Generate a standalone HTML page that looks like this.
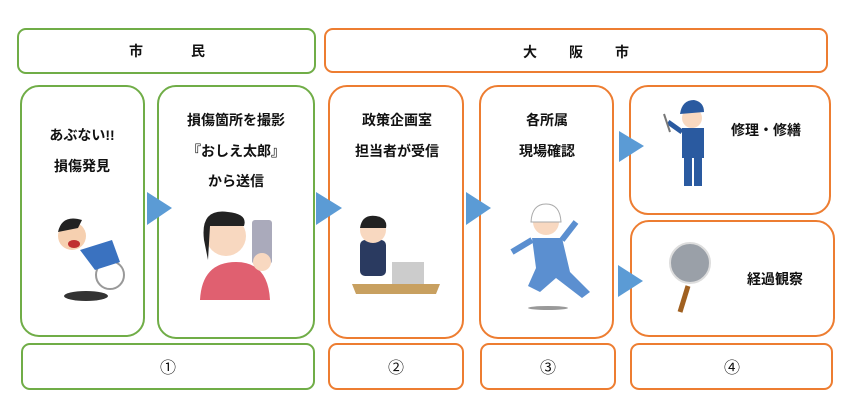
<!DOCTYPE html>
<html><head><meta charset="utf-8"><style>
body{margin:0;width:854px;height:412px;background:#fff;overflow:hidden}
svg text{font-family:"Liberation Sans","Noto Sans CJK JP",sans-serif;font-weight:bold;font-size:14px;fill:#111;text-anchor:middle}
svg text.n{font-weight:normal;font-size:16px}
</style></head><body>
<svg width="854" height="412" viewBox="0 0 854 412">
<g fill="none" stroke-width="2">
<rect x="18" y="29" width="297" height="44" rx="8" stroke="#70ad47"/>
<rect x="325" y="29" width="502" height="43" rx="8" stroke="#ed7d31"/>
<rect x="21" y="86" width="123" height="250" rx="18" stroke="#70ad47"/>
<rect x="158" y="86" width="156" height="252" rx="18" stroke="#70ad47"/>
<rect x="329" y="86" width="134" height="252" rx="18" stroke="#ed7d31"/>
<rect x="480" y="86" width="133" height="252" rx="18" stroke="#ed7d31"/>
<rect x="630" y="86" width="200" height="128" rx="18" stroke="#ed7d31"/>
<rect x="631" y="221" width="203" height="115" rx="18" stroke="#ed7d31"/>
<rect x="22" y="344" width="292" height="45" rx="8" stroke="#70ad47"/>
<rect x="329" y="344" width="134" height="45" rx="8" stroke="#ed7d31"/>
<rect x="481" y="344" width="134" height="45" rx="8" stroke="#ed7d31"/>
<rect x="631" y="344" width="201" height="45" rx="8" stroke="#ed7d31"/>
</g>
<g fill="#5b9bd5">
<polygon points="147,192 172,208 147,225"/>
<polygon points="316,192 342,208 316,225"/>
<polygon points="466,192 491,208 466,225"/>
<polygon points="619,131 644,146 619,162"/>
<polygon points="618,265 643,281 618,297"/>
</g>
<text x="136" y="56">市</text><text x="198" y="56">民</text>
<text x="530" y="57">大</text><text x="576" y="57">阪</text><text x="622" y="57">市</text>
<text x="82" y="140">あぶない!!</text><text x="82" y="171">損傷発見</text>
<text x="236" y="125">損傷箇所を撮影</text><text x="236" y="156">『おしえ太郎』</text><text x="236" y="186">から送信</text>
<text x="397" y="125">政策企画室</text><text x="397" y="156">担当者が受信</text>
<text x="547" y="125">各所属</text><text x="547" y="156">現場確認</text>
<text x="766" y="135">修理・修繕</text>
<text x="775" y="284">経過観察</text>
<text class="n" x="168" y="373">①</text>
<text class="n" x="396" y="373">②</text>
<text class="n" x="548" y="373">③</text>
<text class="n" x="732" y="373">④</text>
<ellipse cx="86" cy="296" rx="22" ry="5" fill="#333"/>
<circle cx="110" cy="275" r="14" fill="none" stroke="#999" stroke-width="2"/>
<path d="M80 250 L112 240 L120 262 L95 270Z" fill="#3a72c0"/>
<circle cx="72" cy="236" r="14" fill="#f6d0b0"/>
<path d="M58 232 Q62 214 82 220 L78 228Z" fill="#222"/>
<ellipse cx="74" cy="244" rx="6" ry="4" fill="#c03030"/>
<path d="M200 300 Q202 262 236 262 Q268 262 270 300Z" fill="#e06070"/>
<circle cx="226" cy="236" r="20" fill="#f8d8c0"/>
<path d="M204 240 Q200 208 228 212 Q248 214 244 226 L210 226 L208 260Z" fill="#222"/>
<rect x="252" y="220" width="20" height="44" rx="3" fill="#aab"/>
<circle cx="262" cy="262" r="9" fill="#f8d8c0"/>
<rect x="360" y="240" width="26" height="36" rx="5" fill="#2a3a60"/>
<circle cx="373" cy="230" r="13" fill="#f8d8c0"/>
<path d="M360 228 Q362 214 376 216 Q388 218 386 228Z" fill="#222"/>
<rect x="392" y="262" width="32" height="22" fill="#ccc"/>
<path d="M352 284 L440 284 L436 294 L356 294Z" fill="#c8a060"/>
<ellipse cx="548" cy="308" rx="20" ry="2" fill="#999"/>
<circle cx="546" cy="222" r="13" fill="#f8d8c0"/>
<path d="M531 222 Q532 204 546 204 Q560 204 561 222Z" fill="#fff" stroke="#aaa"/>
<path d="M532 238 L562 238 L570 272 L590 292 L582 298 L556 278 L540 292 L528 286 L536 268Z" fill="#5b8fd0"/>
<path d="M532 240 L512 252 M562 240 L576 222" stroke="#5b8fd0" stroke-width="6"/>
<circle cx="692" cy="118" r="10" fill="#f8d8c0"/>
<path d="M680 114 Q682 100 694 100 Q704 102 704 112Z" fill="#2a5aa0"/>
<rect x="682" y="128" width="22" height="30" fill="#2a5aa0"/>
<rect x="684" y="158" width="8" height="28" fill="#2a5aa0"/><rect x="694" y="158" width="8" height="28" fill="#2a5aa0"/>
<path d="M682 132 L668 122" stroke="#2a5aa0" stroke-width="5"/>
<path d="M664 114 L670 132" stroke="#777" stroke-width="2"/>
<path d="M688 286 L680 312" stroke="#a06020" stroke-width="5"/>
<circle cx="690" cy="263" r="20" fill="#9aa0a8" stroke="#ddd" stroke-width="2"/>
</svg>
</body></html>
